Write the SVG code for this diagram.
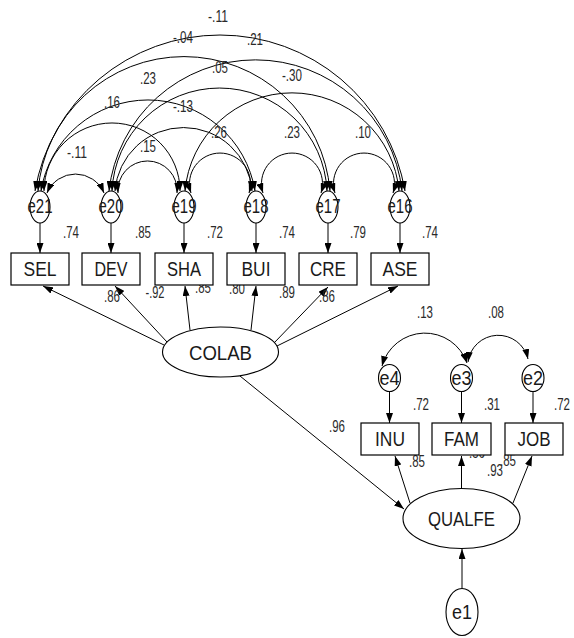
<svg xmlns="http://www.w3.org/2000/svg" width="574" height="638" viewBox="0 0 574 638">
<defs>
<marker id="ah" viewBox="0 0 10 7" refX="10" refY="3.5" markerWidth="10" markerHeight="7" markerUnits="userSpaceOnUse" orient="auto-start-reverse"><path d="M0,0 L10,3.5 L0,7 z" fill="#000"/></marker>
</defs>
<style>
.box{fill:#fff;stroke:#000;stroke-width:1.2}
.ell{fill:#fff;stroke:#000;stroke-width:1.1}
.lbl{font-family:"Liberation Sans",Arial,sans-serif;font-size:21px;fill:#1a1a1a;text-anchor:middle}
.el{font-family:"Liberation Sans",Arial,sans-serif;font-size:20px;fill:#1a1a1a;text-anchor:middle}
.num{font-family:"Liberation Sans",Arial,sans-serif;font-size:16px;fill:#2a2a2a;text-anchor:middle}
.c{fill:none;stroke:#000;stroke-width:1}
.a{marker-end:url(#ah)}
.d{marker-start:url(#ah);marker-end:url(#ah)}
</style>
<rect width="574" height="638" fill="#fff"/>
<g id="connectors">
<path class="c d" d="M47,193 A30.9,30.9 0 0 1 104,193"/>
<path class="c d" d="M118,193 A29.6,29.6 0 1 1 177,193"/>
<path class="c d" d="M191,193 A30.5,30.5 0 1 1 249,193"/>
<path class="c d" d="M263,193 A30.5,30.5 0 1 1 321,193"/>
<path class="c d" d="M335,193 A30.5,30.5 0 1 1 393,193"/>
<path class="c d" d="M44,191 A68,68 0 1 1 180,191"/>
<path class="c d" d="M115,191 A68.7,68.7 0 0 1 252,191"/>
<path class="c d" d="M41,191 A108.4,108.4 0 0 1 255,191"/>
<path class="c d" d="M112,191 A107.6,107.6 0 0 1 327,191"/>
<path class="c d" d="M185,191 A107.4,107.4 0 0 1 399,191"/>
<path class="c d" d="M38,191 A146.5,146.5 0 0 1 330,191"/>
<path class="c d" d="M109,191 A147.4,147.4 0 0 1 402,191"/>
<path class="c d" d="M35,191 A187.7,187.7 0 0 1 405,191"/>
<path class="c a" d="M40,223 L40,253"/>
<path class="c a" d="M111,223 L111,253"/>
<path class="c a" d="M184,223 L184,253"/>
<path class="c a" d="M256,223 L256,253"/>
<path class="c a" d="M328,223 L328,253"/>
<path class="c a" d="M400,223 L400,253"/>
<path class="c a" d="M164,345 L43,286"/>
<path class="c a" d="M167,342 L115,286"/>
<path class="c a" d="M190,330 L185,286"/>
<path class="c a" d="M251,330 L256,286"/>
<path class="c a" d="M274,343 L328,287"/>
<path class="c a" d="M277,346 L398,286"/>
<path class="c a" d="M240,376 L404,509"/>
<path class="c d" d="M382,366 A44.5,44.5 0 0 1 467,363"/>
<path class="c d" d="M468,362 A30.5,30.5 0 0 1 528,359"/>
<path class="c a" d="M389.5,391.5 L389.5,423"/>
<path class="c a" d="M461.5,391.5 L461.5,423"/>
<path class="c a" d="M533,391.5 L533,423"/>
<path class="c a" d="M410,503 L395,456"/>
<path class="c a" d="M461.5,488 L461.5,456"/>
<path class="c a" d="M513,503 L532,456"/>
<path class="c a" d="M462,588.5 L462,549"/>
</g>
<g id="labels">
<text class="num" x="218" y="22" textLength="20" lengthAdjust="spacingAndGlyphs">-.11</text>
<text class="num" x="183" y="43" textLength="20" lengthAdjust="spacingAndGlyphs">-.04</text>
<text class="num" x="255" y="45" textLength="16" lengthAdjust="spacingAndGlyphs">.21</text>
<text class="num" x="220" y="73" textLength="16" lengthAdjust="spacingAndGlyphs">.05</text>
<text class="num" x="148" y="84" textLength="16" lengthAdjust="spacingAndGlyphs">.23</text>
<text class="num" x="292" y="81" textLength="20" lengthAdjust="spacingAndGlyphs">-.30</text>
<text class="num" x="112" y="108" textLength="16" lengthAdjust="spacingAndGlyphs">.16</text>
<text class="num" x="183" y="112" textLength="20" lengthAdjust="spacingAndGlyphs">-.13</text>
<text class="num" x="219" y="138" textLength="16" lengthAdjust="spacingAndGlyphs">.26</text>
<text class="num" x="292" y="138" textLength="16" lengthAdjust="spacingAndGlyphs">.23</text>
<text class="num" x="363" y="138" textLength="16" lengthAdjust="spacingAndGlyphs">.10</text>
<text class="num" x="77" y="158" textLength="20" lengthAdjust="spacingAndGlyphs">-.11</text>
<text class="num" x="148" y="152" textLength="16" lengthAdjust="spacingAndGlyphs">.15</text>
<text class="num" x="71" y="238" textLength="16" lengthAdjust="spacingAndGlyphs">.74</text>
<text class="num" x="143" y="238" textLength="16" lengthAdjust="spacingAndGlyphs">.85</text>
<text class="num" x="215" y="238" textLength="16" lengthAdjust="spacingAndGlyphs">.72</text>
<text class="num" x="287" y="238" textLength="16" lengthAdjust="spacingAndGlyphs">.74</text>
<text class="num" x="358" y="238" textLength="16" lengthAdjust="spacingAndGlyphs">.79</text>
<text class="num" x="430" y="238" textLength="16" lengthAdjust="spacingAndGlyphs">.74</text>
<text class="num" x="112" y="302" textLength="16" lengthAdjust="spacingAndGlyphs">.86</text>
<text class="num" x="155" y="298" textLength="19" lengthAdjust="spacingAndGlyphs">-.92</text>
<text class="num" x="203" y="293" textLength="16" lengthAdjust="spacingAndGlyphs">.85</text>
<text class="num" x="237" y="294" textLength="16" lengthAdjust="spacingAndGlyphs">.80</text>
<text class="num" x="287" y="298" textLength="16" lengthAdjust="spacingAndGlyphs">.89</text>
<text class="num" x="327" y="302" textLength="16" lengthAdjust="spacingAndGlyphs">.86</text>
<text class="num" x="425" y="318" textLength="16" lengthAdjust="spacingAndGlyphs">.13</text>
<text class="num" x="496" y="318" textLength="16" lengthAdjust="spacingAndGlyphs">.08</text>
<text class="num" x="421" y="410" textLength="16" lengthAdjust="spacingAndGlyphs">.72</text>
<text class="num" x="492" y="410" textLength="16" lengthAdjust="spacingAndGlyphs">.31</text>
<text class="num" x="562" y="410" textLength="16" lengthAdjust="spacingAndGlyphs">.72</text>
<text class="num" x="337" y="432" textLength="16" lengthAdjust="spacingAndGlyphs">.96</text>
<text class="num" x="417" y="467" textLength="16" lengthAdjust="spacingAndGlyphs">.85</text>
<text class="num" x="477" y="458" textLength="16" lengthAdjust="spacingAndGlyphs">.56</text>
<text class="num" x="495" y="476" textLength="16" lengthAdjust="spacingAndGlyphs">.93</text>
<text class="num" x="508" y="466" textLength="16" lengthAdjust="spacingAndGlyphs">.85</text>
</g>
<g id="e21"><ellipse class="ell" cx="40" cy="207" rx="10" ry="16"/><text class="el" x="40" y="213" textLength="25" lengthAdjust="spacingAndGlyphs">e21</text></g>
<g id="e20"><ellipse class="ell" cx="111" cy="207" rx="10" ry="16"/><text class="el" x="111" y="213" textLength="25" lengthAdjust="spacingAndGlyphs">e20</text></g>
<g id="e19"><ellipse class="ell" cx="184" cy="207" rx="10" ry="16"/><text class="el" x="184" y="213" textLength="25" lengthAdjust="spacingAndGlyphs">e19</text></g>
<g id="e18"><ellipse class="ell" cx="256" cy="207" rx="10" ry="16"/><text class="el" x="256" y="213" textLength="25" lengthAdjust="spacingAndGlyphs">e18</text></g>
<g id="e17"><ellipse class="ell" cx="328" cy="207" rx="10" ry="16"/><text class="el" x="328" y="213" textLength="25" lengthAdjust="spacingAndGlyphs">e17</text></g>
<g id="e16"><ellipse class="ell" cx="400" cy="207" rx="10" ry="16"/><text class="el" x="400" y="213" textLength="25" lengthAdjust="spacingAndGlyphs">e16</text></g>
<g id="SEL"><rect class="box" x="11" y="253" width="58" height="32"/><text class="lbl" x="40" y="276" textLength="33" lengthAdjust="spacingAndGlyphs">SEL</text></g>
<g id="DEV"><rect class="box" x="82" y="253" width="58" height="32"/><text class="lbl" x="111" y="276" textLength="33" lengthAdjust="spacingAndGlyphs">DEV</text></g>
<g id="SHA"><rect class="box" x="155" y="253" width="58" height="32"/><text class="lbl" x="184" y="276" textLength="34" lengthAdjust="spacingAndGlyphs">SHA</text></g>
<g id="BUI"><rect class="box" x="227" y="253" width="58" height="32"/><text class="lbl" x="256" y="276" textLength="29" lengthAdjust="spacingAndGlyphs">BUI</text></g>
<g id="CRE"><rect class="box" x="299" y="253" width="58" height="32"/><text class="lbl" x="328" y="276" textLength="36" lengthAdjust="spacingAndGlyphs">CRE</text></g>
<g id="ASE"><rect class="box" x="371" y="253" width="58" height="32"/><text class="lbl" x="400" y="276" textLength="35" lengthAdjust="spacingAndGlyphs">ASE</text></g>
<g id="COLAB"><ellipse class="ell" cx="220.5" cy="352" rx="58" ry="25"/><text class="lbl" x="220.5" y="359.5" textLength="63" lengthAdjust="spacingAndGlyphs">COLAB</text></g>
<g id="e4"><ellipse class="ell" cx="389.5" cy="378" rx="11" ry="13.5"/><text class="el" x="389.5" y="385" textLength="20" lengthAdjust="spacingAndGlyphs">e4</text></g>
<g id="e3"><ellipse class="ell" cx="461.5" cy="378" rx="11" ry="13.5"/><text class="el" x="461.5" y="385" textLength="20" lengthAdjust="spacingAndGlyphs">e3</text></g>
<g id="e2"><ellipse class="ell" cx="533" cy="378" rx="11" ry="13.5"/><text class="el" x="533" y="385" textLength="20" lengthAdjust="spacingAndGlyphs">e2</text></g>
<g id="INU"><rect class="box" x="361" y="423" width="58" height="32"/><text class="lbl" x="390" y="446" textLength="30" lengthAdjust="spacingAndGlyphs">INU</text></g>
<g id="FAM"><rect class="box" x="432" y="423" width="59" height="32"/><text class="lbl" x="461.5" y="446" textLength="35" lengthAdjust="spacingAndGlyphs">FAM</text></g>
<g id="JOB"><rect class="box" x="505" y="423" width="58" height="32"/><text class="lbl" x="534" y="446" textLength="33" lengthAdjust="spacingAndGlyphs">JOB</text></g>
<g id="QUALFE"><ellipse class="ell" cx="461.5" cy="518.5" rx="58.5" ry="30"/><text class="lbl" x="461.5" y="526" textLength="67" lengthAdjust="spacingAndGlyphs">QUALFE</text></g>
<g id="e1"><ellipse class="ell" cx="462" cy="612" rx="16" ry="23.5"/><text class="el" x="462" y="619" textLength="20" lengthAdjust="spacingAndGlyphs">e1</text></g>
</svg>
